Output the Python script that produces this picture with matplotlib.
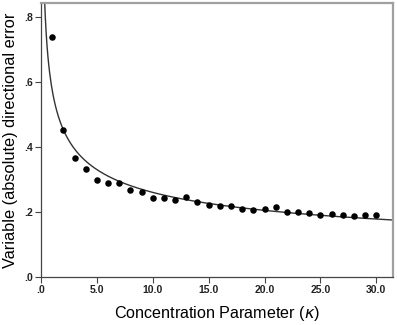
import numpy as np
import matplotlib
matplotlib.use("Agg")
import matplotlib.pyplot as plt

plt.rcParams['font.family'] = ['Liberation Sans', 'DejaVu Sans']

# mean variable directional error per concentration parameter
kappa = [1, 2, 3, 4, 5, 6, 7, 8, 9, 10, 11, 12, 13, 14, 15,
         16, 17, 18, 19, 20, 21, 22, 23, 24, 25, 26, 27, 28, 29, 30]
error = [0.737, 0.453, 0.365, 0.333, 0.298, 0.289, 0.289, 0.269, 0.261, 0.242,
         0.243, 0.236, 0.246, 0.231, 0.221, 0.217, 0.217, 0.209, 0.206, 0.210,
         0.216, 0.199, 0.199, 0.196, 0.191, 0.194, 0.191, 0.187, 0.191, 0.190]

xticks = [0, 5, 10, 15, 20, 25, 30]
xtick_labels = [".0", "5.0", "10.0", "15.0", "20.0", "25.0", "30.0"]
yticks = [0, 0.2, 0.4, 0.6, 0.8]
ytick_labels = [".0", ".2", ".4", ".6", ".8"]

# power-law fit (log-log regression) like the SPSS fit line
b, log_a = np.polyfit(np.log(kappa), np.log(error), 1)
xs = np.linspace(0.3, 31.5, 400)
ys = np.exp(log_a) * xs ** b

fig = plt.figure(figsize=(3.97, 3.25), dpi=100)
ax = fig.add_axes([0.1033, 0.1477, 0.8867, 0.8431])

ax.plot(xs, ys, color="#333333", lw=1.0)
ax.scatter(kappa, error, s=22, color="black", zorder=3, linewidths=0)

ax.set_xlim(0, 31.5)
ax.set_ylim(0, 0.843)
ax.set_xticks(xticks)
ax.set_xticklabels(xtick_labels, fontsize=7.5, fontweight="bold", color="#222222")
ax.set_yticks(yticks)
ax.set_yticklabels(ytick_labels, fontsize=7.5, fontweight="bold", color="#222222")
ax.tick_params(direction="out", length=4, width=0.8, color="#444444", pad=2)

for side in ["left", "bottom"]:
    ax.spines[side].set_color("#444444")
    ax.spines[side].set_linewidth(0.9)
for side in ["top", "right"]:
    ax.spines[side].set_color("#a0a0a0")
    ax.spines[side].set_linewidth(1.6)

ax.set_xlabel(r"Concentration Parameter ($\kappa$)", fontsize=11.6, labelpad=6)
ax.set_ylabel("Variable (absolute) directional error", fontsize=11.8, labelpad=4)

fig.savefig("out.png", dpi=100)
